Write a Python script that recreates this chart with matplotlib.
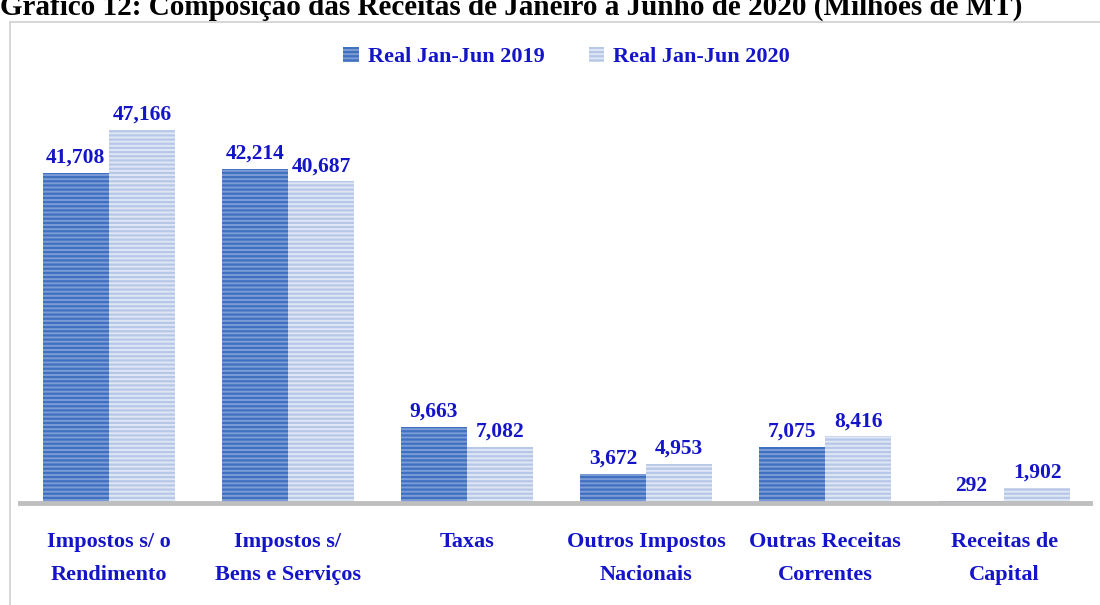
import matplotlib.pyplot as plt
import numpy as np
from matplotlib.patches import Rectangle, Patch

categories = ["Impostos s/ o\nRendimento", "Impostos s/\nBens e Serviços", "Taxas",
              "Outros Impostos\nNacionais", "Outras Receitas\nCorrentes", "Receitas de\nCapital"]
real_2019 = [41708, 42214, 9663, 3672, 7075, 292]
real_2020 = [47166, 40687, 7082, 4953, 8416, 1902]
series_names = ["Real Jan-Jun 2019", "Real Jan-Jun 2020"]

blue_text = "#1414c8"
plt.rcParams["font.family"] = ["Liberation Serif", "DejaVu Serif"]
plt.rcParams["hatch.linewidth"] = 1.6

figure = plt.figure(figsize=(11, 6.05), dpi=100)
axes = figure.add_axes([20 / 1100, 102 / 605, 1070 / 1100, 393 / 605])

# frame around the chart
figure.patches.append(Rectangle((10 / 1100, -0.05), 1.2, 1 - 22 / 605 + 0.05,
                                transform=figure.transFigure, fill=False,
                                edgecolor="#d0d0d0", linewidth=1.2))

figure.text(0.0, 1 - 15 / 605, "Gráfico 12: Composição das Receitas de Janeiro a Junho de 2020 (Milhões de MT)",
            fontsize=21, fontweight="bold", va="baseline", ha="left", color="black")

x = np.arange(len(categories))
width = 0.37
dark_face, dark_hatch = "#7c9cd6", "#4070c0"
light_face, light_hatch = "#dfe7f5", "#b6c7e8"

bars1 = axes.bar(x - width / 2, real_2019, width, color=dark_face, edgecolor=dark_hatch,
                 linewidth=0, hatch="----")
bars2 = axes.bar(x + width / 2, real_2020, width, color=light_face, edgecolor=light_hatch,
                 linewidth=0, hatch="----")

for bars, values in ((bars1, real_2019), (bars2, real_2020)):
    for bar, value in zip(bars, values):
        axes.text(bar.get_x() + bar.get_width() / 2, value + 650, f"{value:,}",
                  ha="center", va="bottom", fontsize=15.5, fontweight="bold", color=blue_text)

axes.set_xlim(-0.497, 5.48)
axes.set_ylim(0, 49700)
axes.set_yticks([])
axes.set_xticks(x)
axes.set_xticklabels(categories, fontsize=16, fontweight="bold", color=blue_text,
                     linespacing=1.85, va="top")
axes.tick_params(axis="x", length=0, pad=21)
for side in ("top", "left", "right"):
    axes.spines[side].set_visible(False)
axes.spines["bottom"].set_color("#bfbfbf")
axes.spines["bottom"].set_linewidth(3.5)

handles = [Patch(facecolor=dark_face, edgecolor=dark_hatch, linewidth=0, hatch="----"),
           Patch(facecolor=light_face, edgecolor=light_hatch, linewidth=0, hatch="----")]
legend = figure.legend(handles, series_names, loc="center", bbox_to_anchor=(0.515, 1 - 57 / 605),
                       ncol=2, frameon=False, handlelength=0.7, handleheight=0.7,
                       handletextpad=0.4, columnspacing=2.0,
                       prop={"size": 16, "weight": "bold"})
for text in legend.get_texts():
    text.set_color(blue_text)

figure.savefig("out.png")
